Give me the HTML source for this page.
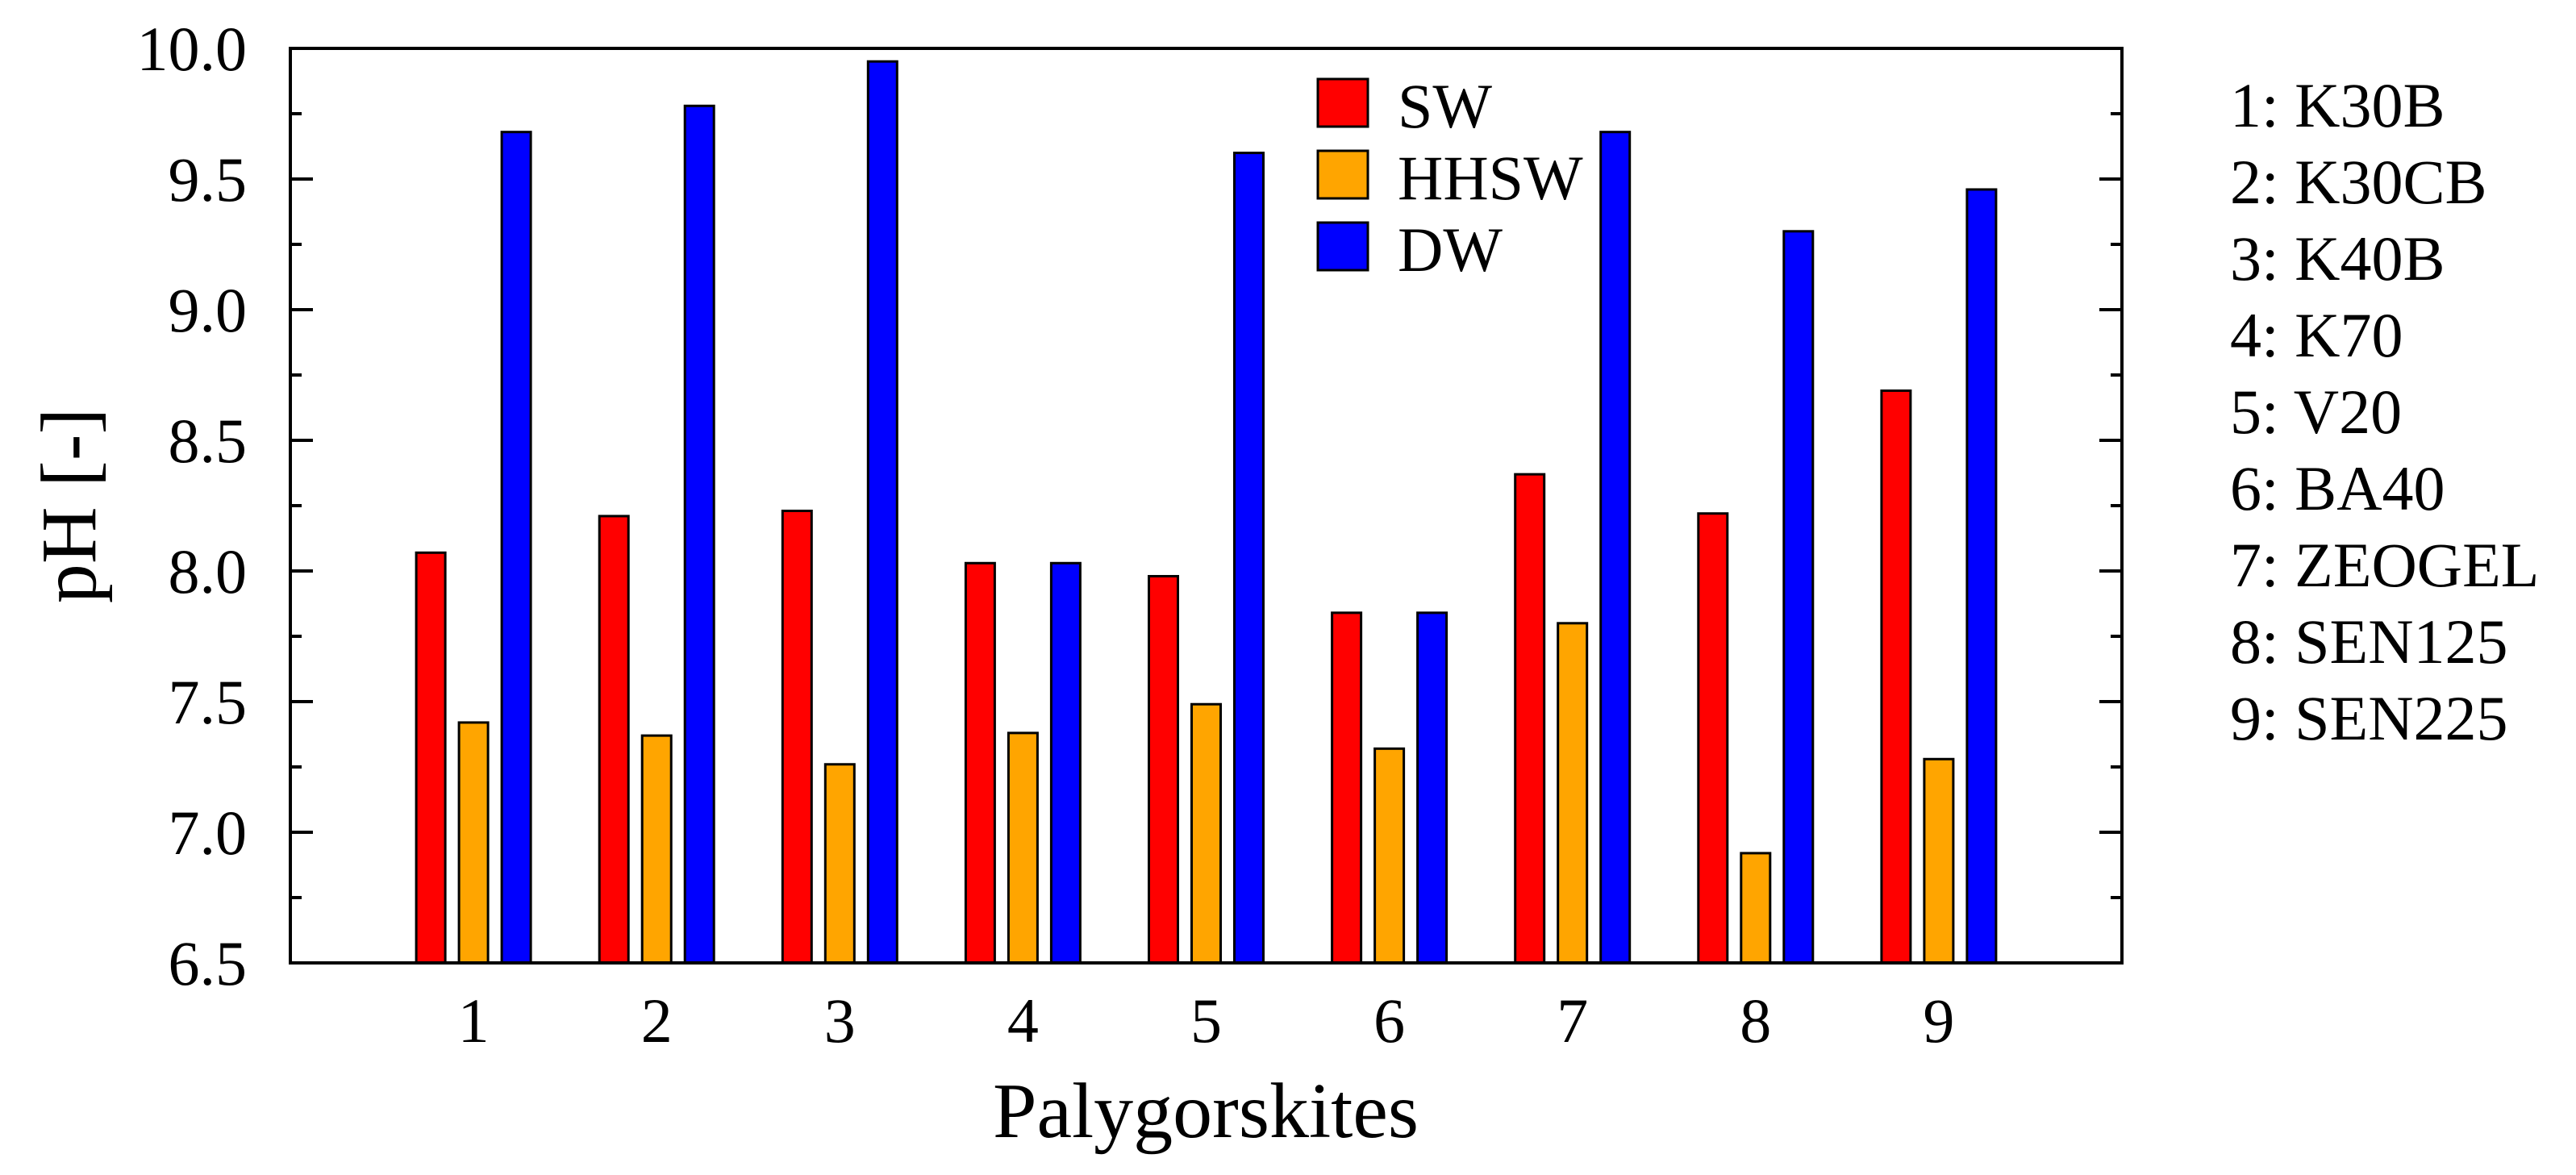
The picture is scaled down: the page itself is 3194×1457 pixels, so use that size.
<!DOCTYPE html>
<html><head><meta charset="utf-8"><style>
html,body{margin:0;padding:0;background:#fff;}
svg{display:block;}
text{font-family:"Liberation Serif",serif;fill:#000;}
</style></head><body>
<svg id="chart" width="3194" height="1457" viewBox="0 0 3194 1457"></svg>
<script>
const categories = [1,2,3,4,5,6,7,8,9];
const swValues = [8.07,8.21,8.23,8.03,7.98,7.84,8.37,8.22,8.69];
const hhswValues = [7.42,7.37,7.26,7.38,7.49,7.32,7.80,6.92,7.28];
const dwValues = [9.68,9.78,9.95,8.03,9.60,7.84,9.68,9.30,9.46];
const yTicks = ["6.5","7.0","7.5","8.0","8.5","9.0","9.5","10.0"];
const sampleNames = ["K30B","K30CB","K40B","K70","V20","BA40","ZEOGEL","SEN125","SEN225"];
const seriesNames = ["SW","HHSW","DW"];

const NS="http://www.w3.org/2000/svg";
const svg=document.getElementById('chart');
const L=360,R=2631,T=60,B=1194;
const xs=v=>L+(v-0)*(R-L)/10;
const ys=v=>B-(v-6.5)*(B-T)/3.5;
function mk(tag,attrs,parent){const e=document.createElementNS(NS,tag);for(const k in attrs)e.setAttribute(k,attrs[k]);(parent||svg).appendChild(e);return e;}

const series=[{vals:swValues,color:"#ff0000",off:-53},{vals:hhswValues,color:"#ffa500",off:0},{vals:dwValues,color:"#0000ff",off:53}];
const barW=36;
series.forEach((s,si)=>{
  categories.forEach((c,i)=>{
    const cx=xs(c)+s.off;
    const r=mk('rect',{x:cx-barW/2,y:ys(s.vals[i]),width:barW,height:B-ys(s.vals[i]),fill:s.color,stroke:"#000","stroke-width":3});
    
    
  });
});

// frame
const fr=mk('rect',{x:L,y:T,width:R-L,height:B-T,fill:"none",stroke:"#000","stroke-width":4});



// y ticks
yTicks.forEach((t,i)=>{
  const v=parseFloat(t);const y=ys(v);
  const g=mk('g',{});
  
  
  mk('line',{x1:L,x2:L+28,y1:y,y2:y,stroke:"#000","stroke-width":4},g);
  mk('line',{x1:R,x2:R-28,y1:y,y2:y,stroke:"#000","stroke-width":4},g);
  const tx=mk('text',{x:306,y:y+27,"font-size":78,"text-anchor":"end"},g);tx.textContent=t;
  if(i<yTicks.length-1){const ym=ys(v+0.25);
    mk('line',{x1:L,x2:L+14,y1:ym,y2:ym,stroke:"#000","stroke-width":4},g);
    mk('line',{x1:R,x2:R-14,y1:ym,y2:ym,stroke:"#000","stroke-width":4},g);}
});
// x labels
categories.forEach(c=>{
  const t=mk('text',{x:xs(c),y:1292,"font-size":78,"text-anchor":"middle"});
  
  
  t.textContent=c;
});
const xt=mk('text',{x:1495,y:1410,"font-size":98,"text-anchor":"middle"});


xt.textContent="Palygorskites";
const yt=mk('text',{x:0,y:0,"font-size":98,"text-anchor":"middle",transform:"translate(118,627) rotate(-90)"});


yt.textContent="pH [-]";

// legend
const legY=[98,187,276];
series.forEach((s,i)=>{
  const g=mk('g',{});
  
  
  mk('rect',{x:1634,y:legY[i],width:62,height:59,fill:s.color,stroke:"#000","stroke-width":3},g);
  const t=mk('text',{x:1733,y:legY[i]+60,"font-size":78},g);t.textContent=seriesNames[i];
});
// sample list
sampleNames.forEach((n,i)=>{
  const t=mk('text',{x:2765,y:157+i*95,"font-size":78});
  
  
  t.textContent=(i+1)+": "+n;
});
</script>
</body></html>
